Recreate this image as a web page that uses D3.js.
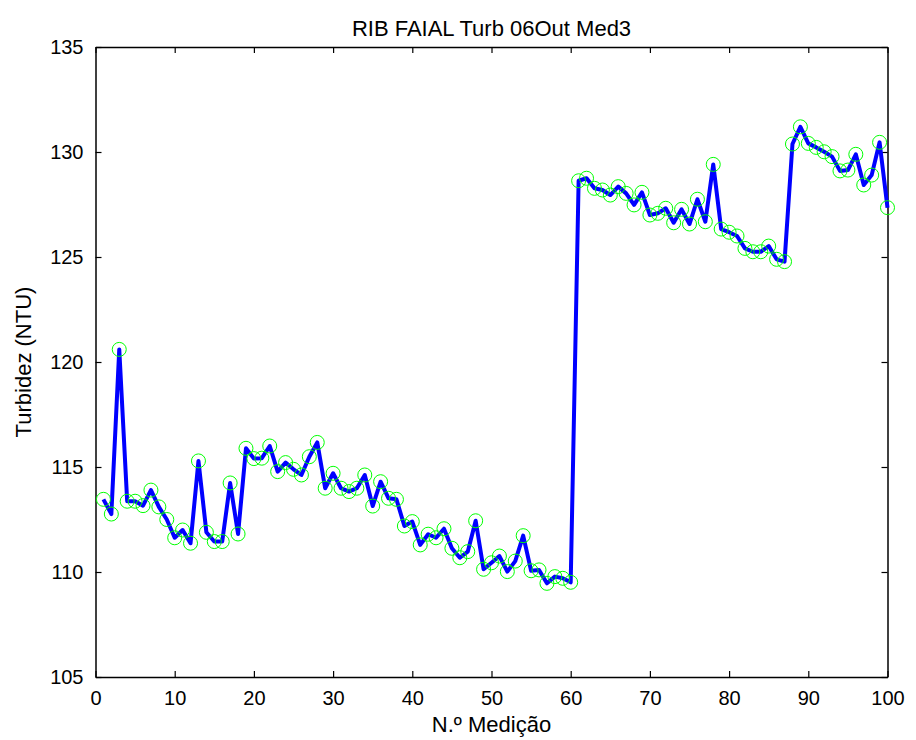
<!DOCTYPE html>
<html>
<head>
<meta charset="utf-8">
<script src="https://cdn.jsdelivr.net/npm/d3@7"></script>
<style>
  html, body { margin: 0; padding: 0; background: #fff; }
  svg { display: block; }
  text { font-family: "Liberation Sans", Arial, sans-serif; fill: #000; }
</style>
</head>
<body>
<svg id="chart" width="916" height="740"></svg>
<script>
const title = "RIB FAIAL Turb 06Out Med3";
const xLabel = "N.º Medição";
const yLabel = "Turbidez (NTU)";

const turbidity = [
  113.46, 112.76, 120.6, 113.37, 113.37, 113.16, 113.9, 113.1, 112.5, 111.63,
  112.0, 111.37, 115.29, 111.89, 111.45, 111.45, 114.24, 111.81, 115.89, 115.4,
  115.42, 116.0, 114.78, 115.21, 114.89, 114.62, 115.49, 116.17, 113.99, 114.7,
  113.99, 113.83, 113.99, 114.62, 113.14, 114.3, 113.51, 113.46, 112.19, 112.4,
  111.29, 111.8, 111.63, 112.06, 111.13, 110.68, 110.97, 112.44, 110.13, 110.44,
  110.76, 110.02, 110.52, 111.73, 110.06, 110.1, 109.46, 109.78, 109.7, 109.51,
  128.63, 128.75, 128.27, 128.19, 127.95, 128.35, 128.03, 127.48, 128.08, 127.0,
  127.08, 127.32, 126.63, 127.27, 126.57, 127.75, 126.68, 129.41, 126.33, 126.18,
  126.0, 125.41, 125.25, 125.25, 125.52, 124.89, 124.78, 130.38, 131.2, 130.41,
  130.22, 130.01, 129.78, 129.1, 129.14, 129.89, 128.43, 128.9, 130.46, 127.35
];
const measurement = turbidity.map((_, i) => i + 1);

const xTicks = [0, 10, 20, 30, 40, 50, 60, 70, 80, 90, 100];
const yTicks = [105, 110, 115, 120, 125, 130, 135];
const xDomain = [0, 100];
const yDomain = [105, 135];

const margin = { left: 95.5, right: 916 - 887.5, top: 47, bottom: 740 - 677 };
const W = 916, H = 740;
const svg = d3.select("#chart");

const x = d3.scaleLinear().domain(xDomain).range([margin.left, W - margin.right]);
const y = d3.scaleLinear().domain(yDomain).range([H - margin.bottom, margin.top]);

const tickLen = 6;
const tickFont = 20;
const labelFont = 22;

// axes (MATLAB-like inner ticks on all four sides)
const gBottom = svg.append("g").attr("transform", `translate(0,${y(yDomain[0])})`)
  .call(d3.axisBottom(x).tickValues(xTicks).tickSizeInner(-tickLen).tickSizeOuter(0).tickPadding(14));
const gTop = svg.append("g").attr("transform", `translate(0,${y(yDomain[1])})`)
  .call(d3.axisTop(x).tickValues(xTicks).tickSizeInner(-tickLen).tickSizeOuter(0).tickFormat(""));
const gLeft = svg.append("g").attr("transform", `translate(${x(xDomain[0])},0)`)
  .call(d3.axisLeft(y).tickValues(yTicks).tickSizeInner(-tickLen).tickSizeOuter(0).tickPadding(12));
const gRight = svg.append("g").attr("transform", `translate(${x(xDomain[1])},0)`)
  .call(d3.axisRight(y).tickValues(yTicks).tickSizeInner(-tickLen).tickSizeOuter(0).tickFormat(""));

[gBottom, gTop, gLeft, gRight].forEach(g => {
  g.select(".domain").attr("stroke", "#000").attr("stroke-width", 1.5);
  g.selectAll(".tick line").attr("stroke", "#000").attr("stroke-width", 1.2);
  g.selectAll(".tick text").attr("font-size", tickFont)
    .attr("font-family", '"Liberation Sans", Arial, sans-serif').attr("fill", "#000");
});
gBottom.selectAll(".tick text").attr("dy", "0.71em");

// data line
const line = d3.line().x((d, i) => x(measurement[i])).y(d => y(d));
svg.append("path").datum(turbidity)
  .attr("d", line)
  .attr("fill", "none")
  .attr("stroke", "#0000ff")
  .attr("stroke-width", 4)
  .attr("stroke-linejoin", "round");

// markers
svg.append("g").selectAll("circle").data(turbidity).join("circle")
  .attr("cx", (d, i) => x(measurement[i]))
  .attr("cy", d => y(d))
  .attr("r", 7)
  .attr("fill", "none")
  .attr("stroke", "#00ff00")
  .attr("stroke-width", 1);

// title and labels
const cx = (x(xDomain[0]) + x(xDomain[1])) / 2;
svg.append("text").attr("x", cx).attr("y", 36).attr("text-anchor", "middle")
  .attr("font-size", labelFont).text(title);
svg.append("text").attr("x", cx).attr("y", 732).attr("text-anchor", "middle")
  .attr("font-size", labelFont).text(xLabel);
svg.append("text").attr("transform", `translate(31,${(y(yDomain[0]) + y(yDomain[1])) / 2}) rotate(-90)`)
  .attr("text-anchor", "middle").attr("font-size", labelFont).text(yLabel);
</script>
</body>
</html>
